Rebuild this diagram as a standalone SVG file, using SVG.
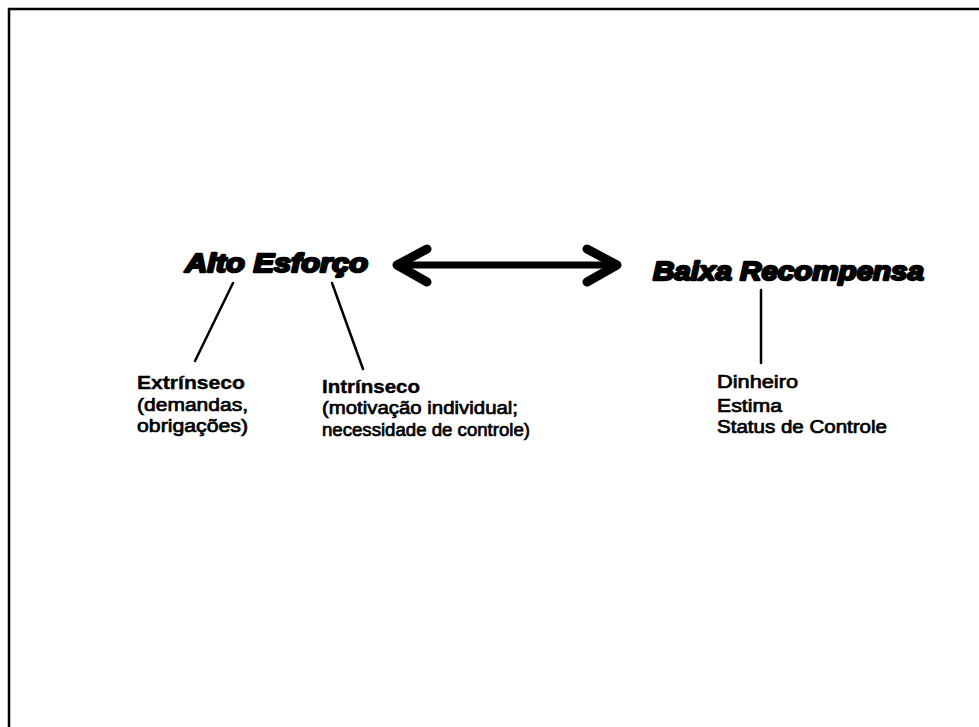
<svg xmlns="http://www.w3.org/2000/svg" width="979" height="727" viewBox="0 0 979 727">
<style>
.title{font-family:"Liberation Sans",Arial,sans-serif;font-weight:bold;font-style:italic;font-size:26px;fill:#000;stroke:#000;stroke-width:2.3px;stroke-linejoin:round}
.head{font-family:"Liberation Sans",Arial,sans-serif;font-weight:bold;font-size:18px;fill:#000;stroke:#000;stroke-width:0.4px}
.body{font-family:"Liberation Sans",Arial,sans-serif;font-size:18px;fill:#000;stroke:#000;stroke-width:0.7px}
.conn{stroke:#000;stroke-width:2.5;fill:none;stroke-linecap:round}
.arrow{stroke:#000;fill:none;stroke-linecap:round;stroke-linejoin:round}
</style>
<rect width="979" height="727" fill="#fff"/>
<g id="frame">
<path d="M9 727 V9 H979" fill="none" stroke="#000" stroke-width="2.5"/>
</g>
<g id="connectors">
<line class="arrow" x1="400" y1="265" x2="614" y2="265" stroke-width="7"/>
<polyline class="arrow" points="427,249 397,265 427,282" stroke-width="9"/>
<polyline class="arrow" points="587,249 617,265 587,282" stroke-width="9"/>
<line class="conn" x1="233" y1="283" x2="195" y2="361"/>
<line class="conn" x1="332" y1="283" x2="363" y2="369"/>
<line class="conn" x1="761" y1="290" x2="761" y2="363"/>
</g>
<g id="alto-esforco">
<text class="title" x="185" y="272" textLength="183" lengthAdjust="spacingAndGlyphs">Alto Esforço</text>
</g>
<g id="baixa-recompensa">
<text class="title" x="653" y="280" textLength="271" lengthAdjust="spacingAndGlyphs">Baixa Recompensa</text>
</g>
<g id="extrinseco">
<text class="head" x="137" y="389" textLength="108" lengthAdjust="spacingAndGlyphs">Extrínseco</text>
<text class="body" x="137" y="411" textLength="111" lengthAdjust="spacingAndGlyphs">(demandas,</text>
<text class="body" x="137" y="432" textLength="111" lengthAdjust="spacingAndGlyphs">obrigações)</text>
</g>
<g id="intrinseco">
<text class="head" x="322" y="393" textLength="98" lengthAdjust="spacingAndGlyphs">Intrínseco</text>
<text class="body" x="322" y="414" textLength="196" lengthAdjust="spacingAndGlyphs">(motivação individual;</text>
<text class="body" x="322" y="436" textLength="208" lengthAdjust="spacingAndGlyphs">necessidade de controle)</text>
</g>
<g id="recompensa-itens">
<text class="body" x="717" y="388" textLength="81" lengthAdjust="spacingAndGlyphs">Dinheiro</text>
<text class="body" x="717" y="412" textLength="65" lengthAdjust="spacingAndGlyphs">Estima</text>
<text class="body" x="717" y="433" textLength="170" lengthAdjust="spacingAndGlyphs">Status de Controle</text>
</g>
</svg>
